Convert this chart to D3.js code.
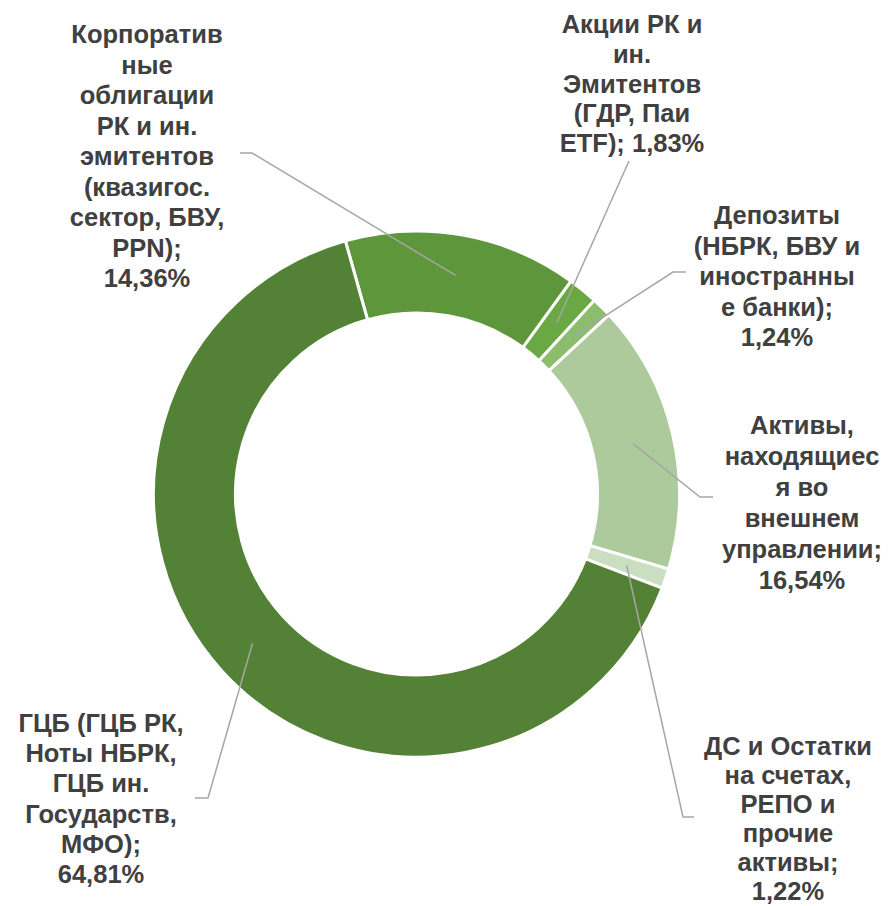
<!DOCTYPE html>
<html>
<head>
<meta charset="utf-8">
<script src="https://cdn.jsdelivr.net/npm/d3@7"></script>
<style>
    body { margin: 0; background: #ffffff; }
    svg { display: block; }
</style>
</head>
<body>
<svg id="chart" width="893" height="906"></svg>
<script>
// data (Excel order, clockwise from first slice)
const categories = [
    "Корпоративные облигации РК и ин. эмитентов (квазигос. сектор, БВУ, PPN)",
    "Акции РК и ин. Эмитентов (ГДР, Паи ETF)",
    "Депозиты (НБРК, БВУ и иностранные банки)",
    "Активы, находящиеся во внешнем управлении",
    "ДС и Остатки на счетах, РЕПО и прочие активы",
    "ГЦБ (ГЦБ РК, Ноты НБРК, ГЦБ ин. Государств, МФО)"
];
const shares = [14.36, 1.83, 1.24, 16.54, 1.22, 64.81];
const valueLabels = ["14,36%", "1,83%", "1,24%", "16,54%", "1,22%", "64,81%"];

// label text as wrapped in the original
const labelLines = [
    ["Корпоратив", "ные", "облигации", "РК и ин.", "эмитентов", "(квазигос.", "сектор, БВУ,", "PPN);", "14,36%"],
    ["Акции РК и", "ин.", "Эмитентов", "(ГДР, Паи", "ETF); 1,83%"],
    ["Депозиты", "(НБРК, БВУ и", "иностранны", "е банки);", "1,24%"],
    ["Активы,", "находящиес", "я во", "внешнем", "управлении;", "16,54%"],
    ["ДС и Остатки", "на счетах,", "РЕПО и", "прочие", "активы;", "1,22%"],
    ["ГЦБ (ГЦБ РК,", "Ноты НБРК,", "ГЦБ ин.", "Государств,", "МФО);", "64,81%"]
];

const colors = ["#5e963c", "#6aa843", "#8bbd6c", "#adca9c", "#cadfc1", "#538135"];

// layout of labels: centre x, first baseline, line step, leader elbow and end
const labelPos = [
    { x: 147, y: 43,  step: 30.5, elbow: [252, 153], end: [240, 153] },
    { x: 632, y: 33,  step: 29.8, elbow: [629, 161], end: [629, 161] },
    { x: 777, y: 224, step: 30.5, elbow: [673, 272], end: [686, 272] },
    { x: 802, y: 434, step: 31,   elbow: [700, 497], end: [713, 497] },
    { x: 788, y: 755, step: 29,   elbow: [683, 817], end: [694, 817] },
    { x: 101, y: 732, step: 30.2, elbow: [208, 798], end: [195, 798] }
];

const svg = d3.select("#chart");
const cx = 416.5, cy = 494;
const outerR = 263, innerR = 181;
const startAngle = -15.7 * Math.PI / 180;

const pie = d3.pie()
    .value(d => d)
    .sort(null)
    .startAngle(startAngle)
    .endAngle(startAngle + 2 * Math.PI);

const arcs = pie(shares);

const arc = d3.arc()
    .innerRadius(innerR)
    .outerRadius(outerR);

const midArc = d3.arc()
    .innerRadius(222)
    .outerRadius(222);

const g = svg.append("g")
    .attr("transform", `translate(${cx},${cy})`);

g.selectAll(".slice")
    .data(arcs)
    .join("path")
    .attr("class", "slice")
    .attr("d", arc)
    .attr("fill", (d, i) => colors[i])
    .attr("stroke", "#ffffff")
    .attr("stroke-width", 3)
    .append("title")
    .text((d, i) => categories[i] + ": " + valueLabels[i]);

// leader lines from slice centre to the label
svg.selectAll(".leader")
    .data(arcs)
    .join("polyline")
    .attr("class", "leader")
    .attr("points", (d, i) => {
        const c = midArc.centroid(d);
        const p = labelPos[i];
        return [[cx + c[0], cy + c[1]], p.elbow, p.end].map(q => q.join(",")).join(" ");
    })
    .attr("fill", "none")
    .attr("stroke", "#a6a6a6")
    .attr("stroke-width", 1.5);

// labels
const labels = svg.selectAll(".label")
    .data(labelLines)
    .join("text")
    .attr("class", "label")
    .attr("text-anchor", "middle")
    .style("font-family", "'Liberation Sans', Arial, sans-serif")
    .style("font-weight", "bold")
    .style("font-size", "25.5px")
    .style("fill", "#404040");

labels.selectAll("tspan")
    .data((d, i) => d.map((t, j) => ({ t: t, j: j, i: i })))
    .join("tspan")
    .attr("x", d => labelPos[d.i].x)
    .attr("y", d => labelPos[d.i].y + d.j * labelPos[d.i].step)
    .text(d => d.t);
</script>
</body>
</html>
